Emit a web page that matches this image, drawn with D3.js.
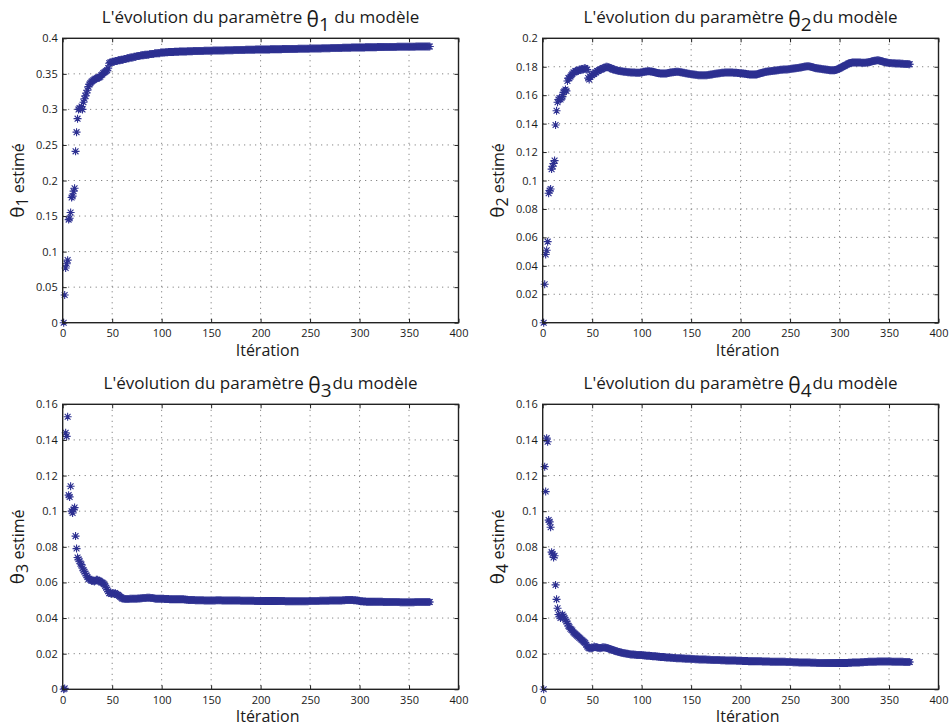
<!DOCTYPE html>
<html><head><meta charset="utf-8">
<script src="https://cdn.jsdelivr.net/npm/d3@7/dist/d3.min.js"></script>
<style>body{margin:0;background:#fff}text{font-family:"Open Sans",sans-serif;fill:#1a1a1a}</style>
</head><body>
<svg id="c" width="949" height="727"></svg>
<script>
// ---------- DATA ----------
const xTicks = [0, 50, 100, 150, 200, 250, 300, 350, 400];
const yTicks12 = [0, 0.05, 0.1, 0.15, 0.2, 0.25, 0.3, 0.35, 0.4];
const yTicks2 = [0, 0.02, 0.04, 0.06, 0.08, 0.1, 0.12, 0.14, 0.16, 0.18, 0.2];
const yTicks34 = [0, 0.02, 0.04, 0.06, 0.08, 0.1, 0.12, 0.14, 0.16];
const titlePrefix = "L'évolution du paramètre ";
const titleSuffixes = [" du modèle", "du modèle", "du modèle", "du modèle"];
const xLabel = "Itération";
const yLabelSuffix = " estimé";
const subscripts = ["1", "2", "3", "4"];

const theta1 = [
0,0.039,0.077,0.083,0.088,0.145,0.147,0.155,0.176,0.178,
0.185,0.189,0.241,0.268,0.287,0.300,0.302,0.301,0.304,0.300,
0.310,0.315,0.319,0.323,0.327,0.332,0.335,0.337,0.339,0.340,
0.341,0.342,0.343,0.343,0.344,0.345,0.345,0.346,0.348,0.349,
0.351,0.352,0.353,0.354,0.355,0.358,0.365,0.366,0.366,0.367,
0.367,0.367,0.368,0.368,0.368,0.369,0.369,0.369,0.370,0.370,
0.370,0.371,0.371,0.371,0.372,0.372,0.372,0.373,0.373,0.373,
0.373,0.374,0.374,0.374,0.375,0.375,0.375,0.375,0.376,0.376,
0.376,0.376,0.377,0.377,0.377,0.377,0.377,0.378,0.378,0.378,
0.378,0.378,0.379,0.379,0.379,0.379,0.379,0.379,0.380,0.380,
0.3800,0.3801,0.3802,0.3803,0.3804,0.3805,0.3806,0.3806,0.3807,0.3808,
0.3808,0.3809,0.3810,0.3810,0.3811,0.3812,0.3812,0.3813,0.3813,0.3814,
0.3814,0.3815,0.3815,0.3816,0.3816,0.3817,0.3817,0.3818,0.3818,0.3819,
0.3819,0.3820,0.3820,0.3820,0.3821,0.3821,0.3822,0.3822,0.3822,0.3823,
0.3823,0.3823,0.3824,0.3824,0.3824,0.3825,0.3825,0.3825,0.3826,0.3826,
0.3826,0.3827,0.3827,0.3827,0.3828,0.3828,0.3828,0.3829,0.3829,0.3829,
0.3830,0.3830,0.3830,0.3831,0.3831,0.3831,0.3832,0.3832,0.3832,0.3833,
0.3833,0.3833,0.3834,0.3834,0.3834,0.3835,0.3835,0.3835,0.3836,0.3836,
0.3836,0.3837,0.3837,0.3837,0.3838,0.3838,0.3838,0.3839,0.3839,0.3839,
0.3840,0.3840,0.3840,0.3840,0.3841,0.3841,0.3841,0.3842,0.3842,0.3842,
0.3842,0.3843,0.3843,0.3843,0.3843,0.3844,0.3844,0.3844,0.3844,0.3845,
0.3845,0.3845,0.3845,0.3846,0.3846,0.3846,0.3846,0.3847,0.3847,0.3847,
0.3847,0.3848,0.3848,0.3848,0.3848,0.3849,0.3849,0.3849,0.3849,0.3850,
0.3850,0.3850,0.3850,0.3851,0.3851,0.3851,0.3851,0.3852,0.3852,0.3852,
0.3852,0.3853,0.3853,0.3853,0.3853,0.3854,0.3854,0.3854,0.3854,0.3855,
0.3855,0.3855,0.3856,0.3856,0.3856,0.3857,0.3857,0.3857,0.3858,0.3858,
0.3858,0.3859,0.3859,0.3859,0.3860,0.3860,0.3860,0.3861,0.3861,0.3861,
0.3862,0.3862,0.3862,0.3863,0.3863,0.3863,0.3864,0.3864,0.3864,0.3865,
0.3865,0.3865,0.3866,0.3866,0.3866,0.3867,0.3867,0.3867,0.3868,0.3868,
0.3868,0.3869,0.3869,0.3869,0.3870,0.3870,0.3870,0.3871,0.3871,0.3871,
0.3871,0.3872,0.3872,0.3872,0.3872,0.3873,0.3873,0.3873,0.3873,0.3874,
0.3874,0.3874,0.3874,0.3875,0.3875,0.3875,0.3875,0.3876,0.3876,0.3876,
0.3876,0.3876,0.3877,0.3877,0.3877,0.3877,0.3877,0.3878,0.3878,0.3878,
0.3878,0.3878,0.3879,0.3879,0.3879,0.3879,0.3879,0.3880,0.3880,0.3880,
0.3880,0.3880,0.3880,0.3881,0.3881,0.3881,0.3881,0.3881,0.3881,0.3882,
0.3882,0.3882,0.3882,0.3882,0.3882,0.3882,0.3883,0.3883,0.3883,0.3883,
0.3883,0.3883,0.3883,0.3883,0.3884,0.3884,0.3884,0.3884,0.3884,0.3884,0.3884];

const theta2 = [
0,0.027,0.048,0.051,0.057,0.091,0.093,0.094,0.108,0.110,
0.112,0.114,0.139,0.149,0.155,0.157,0.158,0.157,0.158,0.159,
0.162,0.163,0.164,0.163,0.170,0.172,0.172,0.173,0.174,0.175,
0.176,0.176,0.177,0.177,0.177,0.177,0.178,0.178,0.178,0.178,
0.178,0.179,0.179,0.178,0.178,0.172,0.171,0.173,0.174,0.174,
0.175,0.175,0.176,0.176,0.177,0.177,0.1775,0.178,0.178,0.1785,
0.179,0.179,0.1795,0.180,0.180,0.1798,0.1795,0.179,0.179,0.1785,
0.178,0.178,0.1778,0.1775,0.1775,0.1772,0.177,0.177,0.1768,0.1768,
0.1766,0.1765,0.1765,0.1764,0.1763,0.1762,0.1762,0.1761,0.176,0.176,
0.176,0.1759,0.1759,0.1758,0.1758,0.1758,0.1758,0.1758,0.1759,0.176,
0.1762,0.1764,0.1765,0.1766,0.1767,0.1768,0.1768,0.1768,0.1767,0.1766,
0.1765,0.1763,0.1761,0.1759,0.1757,0.1756,0.1755,0.1754,0.1753,0.1752,
0.1752,0.1752,0.1752,0.1752,0.1753,0.1754,0.1756,0.1758,0.1759,0.176,
0.1761,0.1762,0.1763,0.1763,0.1764,0.1764,0.1764,0.1763,0.1762,0.1761,
0.176,0.1758,0.1757,0.1755,0.1754,0.1752,0.1751,0.175,0.1749,0.1748,
0.1747,0.1746,0.1745,0.1744,0.1743,0.1742,0.1741,0.1741,0.174,0.174,
0.174,0.174,0.174,0.174,0.174,0.1741,0.1742,0.1743,0.1744,0.1745,
0.1746,0.1748,0.1749,0.175,0.1751,0.1752,0.1753,0.1754,0.1755,0.1756,
0.1757,0.1758,0.1758,0.1759,0.1759,0.176,0.176,0.176,0.176,0.176,
0.1759,0.1759,0.1758,0.1758,0.1757,0.1757,0.1756,0.1756,0.1755,0.1755,
0.1754,0.1753,0.1752,0.1751,0.175,0.1749,0.1748,0.1747,0.1746,0.1746,
0.1745,0.1745,0.1745,0.1745,0.1745,0.1746,0.1748,0.175,0.1752,0.1754,
0.1756,0.1758,0.176,0.1762,0.1764,0.1765,0.1766,0.1767,0.1768,0.1769,
0.177,0.177,0.1771,0.1772,0.1773,0.1774,0.1775,0.1776,0.1777,0.1778,
0.1778,0.1779,0.178,0.178,0.178,0.178,0.1781,0.1782,0.1783,0.1784,
0.1785,0.1786,0.1787,0.1788,0.1789,0.179,0.1791,0.1792,0.1793,0.1794,
0.1795,0.1796,0.1798,0.18,0.1801,0.1802,0.1803,0.1803,0.1803,0.1802,
0.18,0.1798,0.1796,0.1794,0.1792,0.179,0.1789,0.1788,0.1787,0.1786,
0.1785,0.1784,0.1783,0.1782,0.1781,0.178,0.1779,0.1778,0.1777,0.1776,
0.1775,0.1775,0.1775,0.1775,0.1776,0.1777,0.1779,0.1782,0.1785,0.1788,
0.1792,0.1796,0.18,0.1803,0.1806,0.181,0.1814,0.1818,0.1822,0.1825,
0.1827,0.1828,0.1829,0.183,0.183,0.183,0.183,0.183,0.1829,0.1829,
0.1829,0.1828,0.1828,0.1828,0.1828,0.1828,0.1829,0.183,0.1831,0.1832,
0.1834,0.1836,0.1838,0.184,0.1842,0.1843,0.1844,0.1845,0.1845,0.1844,
0.1842,0.184,0.1838,0.1836,0.1834,0.1832,0.183,0.1829,0.1828,0.1827,
0.1826,0.1826,0.1825,0.1825,0.1824,0.1824,0.1823,0.1823,0.1822,0.1822,
0.1822,0.1821,0.1821,0.1821,0.182,0.182,0.182,0.1819,0.1819,0.1818,0.1818];

const theta3 = [
0,0.0005,0.144,0.142,0.153,0.109,0.108,0.114,0.100,0.099,
0.101,0.102,0.086,0.079,0.074,0.073,0.072,0.0705,0.070,0.068,
0.067,0.066,0.065,0.064,0.063,0.062,0.062,0.0615,0.061,0.061,
0.061,0.0605,0.061,0.0615,0.0615,0.061,0.061,0.0605,0.060,0.060,
0.0595,0.059,0.058,0.057,0.056,0.055,0.054,0.054,0.0535,0.054,
0.054,0.0535,0.054,0.0535,0.053,0.053,0.0525,0.052,0.0515,0.051,
0.051,0.0508,0.0507,0.0507,0.0507,0.0507,0.0507,0.0508,0.0508,0.0508,
0.0508,0.0508,0.0509,0.0509,0.0509,0.051,0.051,0.051,0.0511,0.0511,
0.0512,0.0512,0.0513,0.0513,0.0514,0.0514,0.0514,0.0514,0.0513,0.0513,
0.0512,0.0511,0.051,0.0509,0.0509,0.0508,0.0508,0.0508,0.0508,0.0508,
0.0508,0.0508,0.0507,0.0507,0.0507,0.0507,0.0507,0.0506,0.0506,0.0506,
0.0506,0.0506,0.0506,0.0505,0.0505,0.0505,0.0506,0.0506,0.0506,0.0506,
0.0505,0.0505,0.0504,0.0504,0.0503,0.0503,0.0502,0.0502,0.0502,0.0501,
0.0501,0.0501,0.0501,0.05,0.05,0.05,0.05,0.05,0.05,0.05,
0.05,0.05,0.0499,0.0499,0.0499,0.0499,0.0499,0.0499,0.0499,0.0499,
0.0499,0.0499,0.0499,0.0499,0.05,0.05,0.05,0.05,0.05,0.05,
0.0499,0.0499,0.0499,0.0498,0.0498,0.0498,0.0498,0.0498,0.0498,0.0498,
0.0498,0.0498,0.0498,0.0498,0.0498,0.0498,0.0498,0.0498,0.0498,0.0497,
0.0497,0.0497,0.0497,0.0497,0.0497,0.0497,0.0497,0.0497,0.0497,0.0497,
0.0497,0.0497,0.0497,0.0496,0.0496,0.0496,0.0496,0.0496,0.0496,0.0496,
0.0496,0.0496,0.0496,0.0496,0.0496,0.0496,0.0496,0.0496,0.0496,0.0496,
0.0496,0.0496,0.0496,0.0496,0.0496,0.0496,0.0496,0.0496,0.0496,0.0496,
0.0496,0.0496,0.0496,0.0496,0.0495,0.0495,0.0495,0.0495,0.0495,0.0495,
0.0495,0.0495,0.0495,0.0495,0.0495,0.0495,0.0495,0.0495,0.0495,0.0495,
0.0495,0.0495,0.0495,0.0495,0.0495,0.0495,0.0495,0.0495,0.0496,0.0496,
0.0496,0.0496,0.0496,0.0496,0.0496,0.0496,0.0496,0.0496,0.0496,0.0497,
0.0497,0.0497,0.0497,0.0497,0.0497,0.0497,0.0497,0.0497,0.0497,0.0498,
0.0498,0.0498,0.0498,0.0498,0.0498,0.0498,0.0498,0.0499,0.0499,0.0499,
0.0499,0.0499,0.05,0.05,0.05,0.0501,0.0501,0.0501,0.0501,0.0501,
0.0501,0.0501,0.0501,0.05,0.05,0.05,0.0499,0.0498,0.0497,0.0496,
0.0495,0.0494,0.0494,0.0493,0.0493,0.0493,0.0492,0.0492,0.0492,0.0492,
0.0492,0.0492,0.0492,0.0491,0.0491,0.0491,0.0491,0.0491,0.0491,0.0491,
0.0491,0.0491,0.0491,0.049,0.049,0.049,0.049,0.049,0.049,0.049,
0.049,0.049,0.049,0.049,0.049,0.049,0.049,0.049,0.049,0.049,
0.0489,0.0489,0.0489,0.0489,0.0489,0.0489,0.0489,0.0489,0.0489,0.0489,
0.0489,0.0489,0.0489,0.0489,0.0489,0.049,0.049,0.049,0.049,0.049,
0.049,0.049,0.049,0.049,0.049,0.049,0.049,0.049,0.049,0.049,0.049];

const theta4 = [
0,0.125,0.111,0.141,0.139,0.095,0.094,0.091,0.077,0.076,
0.074,0.075,0.0586,0.0505,0.0455,0.042,0.041,0.040,0.041,0.042,
0.041,0.040,0.039,0.038,0.037,0.0355,0.035,0.034,0.0335,0.033,
0.032,0.0315,0.031,0.0305,0.030,0.0295,0.029,0.0285,0.028,0.0275,
0.027,0.0265,0.026,0.025,0.024,0.0235,0.023,0.023,0.023,0.0232,
0.0235,0.024,0.0238,0.0236,0.0235,0.0233,0.0232,0.023,0.0232,0.0235,
0.0236,0.0235,0.0234,0.0233,0.0232,0.023,0.0228,0.0226,0.0224,0.0222,
0.022,0.0218,0.0216,0.0214,0.0213,0.0211,0.021,0.0208,0.0207,0.0205,
0.0204,0.0203,0.0202,0.0201,0.02,0.0199,0.0198,0.0197,0.0196,0.0196,
0.0195,0.0195,0.0194,0.0194,0.0193,0.0193,0.0193,0.0192,0.0192,0.0192,
0.0191,0.0191,0.019,0.019,0.0189,0.0189,0.0188,0.0188,0.0187,0.0187,
0.0186,0.0186,0.0185,0.0185,0.0184,0.0184,0.0183,0.0183,0.0182,0.0182,
0.0181,0.0181,0.018,0.018,0.0179,0.0179,0.0178,0.0178,0.0177,0.0177,
0.0177,0.0176,0.0176,0.0176,0.0175,0.0175,0.0175,0.0174,0.0174,0.0174,
0.0173,0.0173,0.0173,0.0172,0.0172,0.0172,0.0171,0.0171,0.0171,0.017,
0.017,0.017,0.017,0.0169,0.0169,0.0169,0.0169,0.0168,0.0168,0.0168,
0.0168,0.0167,0.0167,0.0167,0.0167,0.0166,0.0166,0.0166,0.0166,0.0165,
0.0165,0.0165,0.0165,0.0165,0.0164,0.0164,0.0164,0.0164,0.0164,0.0163,
0.0163,0.0163,0.0163,0.0163,0.0162,0.0162,0.0162,0.0162,0.0162,0.0161,
0.0161,0.0161,0.0161,0.0161,0.0161,0.016,0.016,0.016,0.016,0.016,
0.016,0.0159,0.0159,0.0159,0.0159,0.0159,0.0159,0.0158,0.0158,0.0158,
0.0158,0.0158,0.0158,0.0158,0.0157,0.0157,0.0157,0.0157,0.0157,0.0157,
0.0157,0.0156,0.0156,0.0156,0.0156,0.0156,0.0156,0.0156,0.0156,0.0155,
0.0155,0.0155,0.0155,0.0155,0.0155,0.0155,0.0155,0.0154,0.0154,0.0154,
0.0154,0.0154,0.0154,0.0154,0.0154,0.0153,0.0153,0.0153,0.0153,0.0153,
0.0153,0.0153,0.0152,0.0152,0.0152,0.0152,0.0152,0.0152,0.0151,0.0151,
0.0151,0.0151,0.0151,0.0151,0.015,0.015,0.015,0.015,0.015,0.015,
0.0149,0.0149,0.0149,0.0149,0.0149,0.0149,0.0148,0.0148,0.0148,0.0148,
0.0148,0.0148,0.0148,0.0147,0.0147,0.0147,0.0147,0.0147,0.0147,0.0147,
0.0147,0.0147,0.0147,0.0147,0.0147,0.0147,0.0147,0.0147,0.0147,0.0147,
0.0147,0.0147,0.0147,0.0148,0.0148,0.0148,0.0148,0.0148,0.0149,0.0149,
0.0149,0.0149,0.015,0.015,0.015,0.015,0.0151,0.0151,0.0151,0.0151,
0.0152,0.0152,0.0152,0.0152,0.0153,0.0153,0.0153,0.0153,0.0154,0.0154,
0.0154,0.0154,0.0155,0.0155,0.0155,0.0155,0.0155,0.0156,0.0156,0.0156,
0.0156,0.0156,0.0156,0.0156,0.0156,0.0156,0.0156,0.0156,0.0156,0.0156,
0.0156,0.0156,0.0155,0.0155,0.0155,0.0155,0.0155,0.0155,0.0154,0.0154,
0.0154,0.0154,0.0154,0.0154,0.0153,0.0153,0.0153,0.0153,0.0153,0.0153,0.0153];

// ---------- LAYOUT ----------
const panels = [
  {values: theta1, yTicks: yTicks12, l: 62.7, r: 458.5, t: 38.3, b: 322.7},
  {values: theta2, yTicks: yTicks2,  l: 542.7, r: 938.5, t: 38.3, b: 322.7},
  {values: theta3, yTicks: yTicks34, l: 62.7, r: 458.5, t: 404.3, b: 689.3},
  {values: theta4, yTicks: yTicks34, l: 542.7, r: 938.5, t: 404.3, b: 689.3}
];
const markColor = "#2d3091";
const fmt = d => String(+d.toFixed(3));
const svg = d3.select("#c");
const star = "M-4,0H4M0,-4V4M-2.9,-2.9L2.9,2.9M-2.9,2.9L2.9,-2.9";

panels.forEach((p, i) => {
  const yMax = p.yTicks[p.yTicks.length - 1];
  const x = d3.scaleLinear().domain([xTicks[0], xTicks[xTicks.length - 1]]).range([p.l, p.r]);
  const y = d3.scaleLinear().domain([0, yMax]).range([p.b, p.t]);
  const g = svg.append("g");

  // grid
  g.append("g").selectAll("line").data(xTicks.slice(1, -1)).join("line")
    .attr("x1", d => x(d)).attr("x2", d => x(d)).attr("y1", p.t).attr("y2", p.b)
    .attr("stroke", "#6a6a6a").attr("stroke-width", 1).attr("stroke-dasharray", "1,4.5");
  g.append("g").selectAll("line").data(p.yTicks.slice(1, -1)).join("line")
    .attr("y1", d => y(d)).attr("y2", d => y(d)).attr("x1", p.l).attr("x2", p.r)
    .attr("stroke", "#6a6a6a").attr("stroke-width", 1).attr("stroke-dasharray", "1,4.5");

  // markers
  g.append("g").selectAll("path").data(p.values).join("path")
    .attr("d", star)
    .attr("transform", (d, k) => `translate(${x(k + 1)},${y(d)})`)
    .attr("fill", "none").attr("stroke", markColor).attr("stroke-width", 1.1);

  // axes
  const axB = g.append("g").attr("transform", `translate(0,${p.b})`)
    .call(d3.axisBottom(x).tickValues(xTicks).tickSize(-4).tickSizeOuter(0).tickPadding(7).tickFormat(d => d));
  const axT = g.append("g").attr("transform", `translate(0,${p.t})`)
    .call(d3.axisTop(x).tickValues(xTicks).tickSize(-4).tickSizeOuter(0).tickFormat(""));
  const axL = g.append("g").attr("transform", `translate(${p.l},0)`)
    .call(d3.axisLeft(y).tickValues(p.yTicks).tickSize(-4).tickSizeOuter(0).tickPadding(5).tickFormat(fmt));
  const axR = g.append("g").attr("transform", `translate(${p.r},0)`)
    .call(d3.axisRight(y).tickValues(p.yTicks).tickSize(-4).tickSizeOuter(0).tickFormat(""));
  [axB, axT, axL, axR].forEach(a => {
    a.select(".domain").remove();
    a.selectAll(".tick line").attr("stroke", "#222");
    a.selectAll("text").attr("font-family", "'Open Sans',sans-serif").attr("font-size", 11).attr("fill", "#1a1a1a");
  });
  g.append("rect").attr("x", p.l).attr("y", p.t).attr("width", p.r - p.l).attr("height", p.b - p.t)
    .attr("fill", "none").attr("stroke", "#222").attr("stroke-width", 1.4);

  const cx = (p.l + p.r) / 2, cy = (p.t + p.b) / 2;
  // title
  const title = g.append("text").attr("x", cx).attr("y", p.t - 15.5).attr("text-anchor", "middle")
    .attr("font-size", 17);
  title.append("tspan").text(titlePrefix);
  title.append("tspan").attr("font-size", 21).attr("dy", 4).text("θ");
  title.append("tspan").attr("font-size", 19).attr("dy", 4).text(subscripts[i]);
  title.append("tspan").attr("dy", -8).attr("dx", i === 0 ? 0 : 1).text(titleSuffixes[i]);

  // x label
  g.append("text").attr("x", cx + 7).attr("y", p.b + 33).attr("text-anchor", "middle")
    .attr("font-size", 16).text(xLabel);

  // y label
  const yl = g.append("text").attr("transform", `translate(${p.l - 39},${cy}) rotate(-90)`)
    .attr("text-anchor", "middle").attr("font-size", 16);
  yl.append("tspan").attr("font-size", 19).text("θ");
  yl.append("tspan").attr("font-size", 16).attr("dy", 4).text(subscripts[i]);
  yl.append("tspan").attr("dy", -4).text(yLabelSuffix);
});
</script>
</body></html>
